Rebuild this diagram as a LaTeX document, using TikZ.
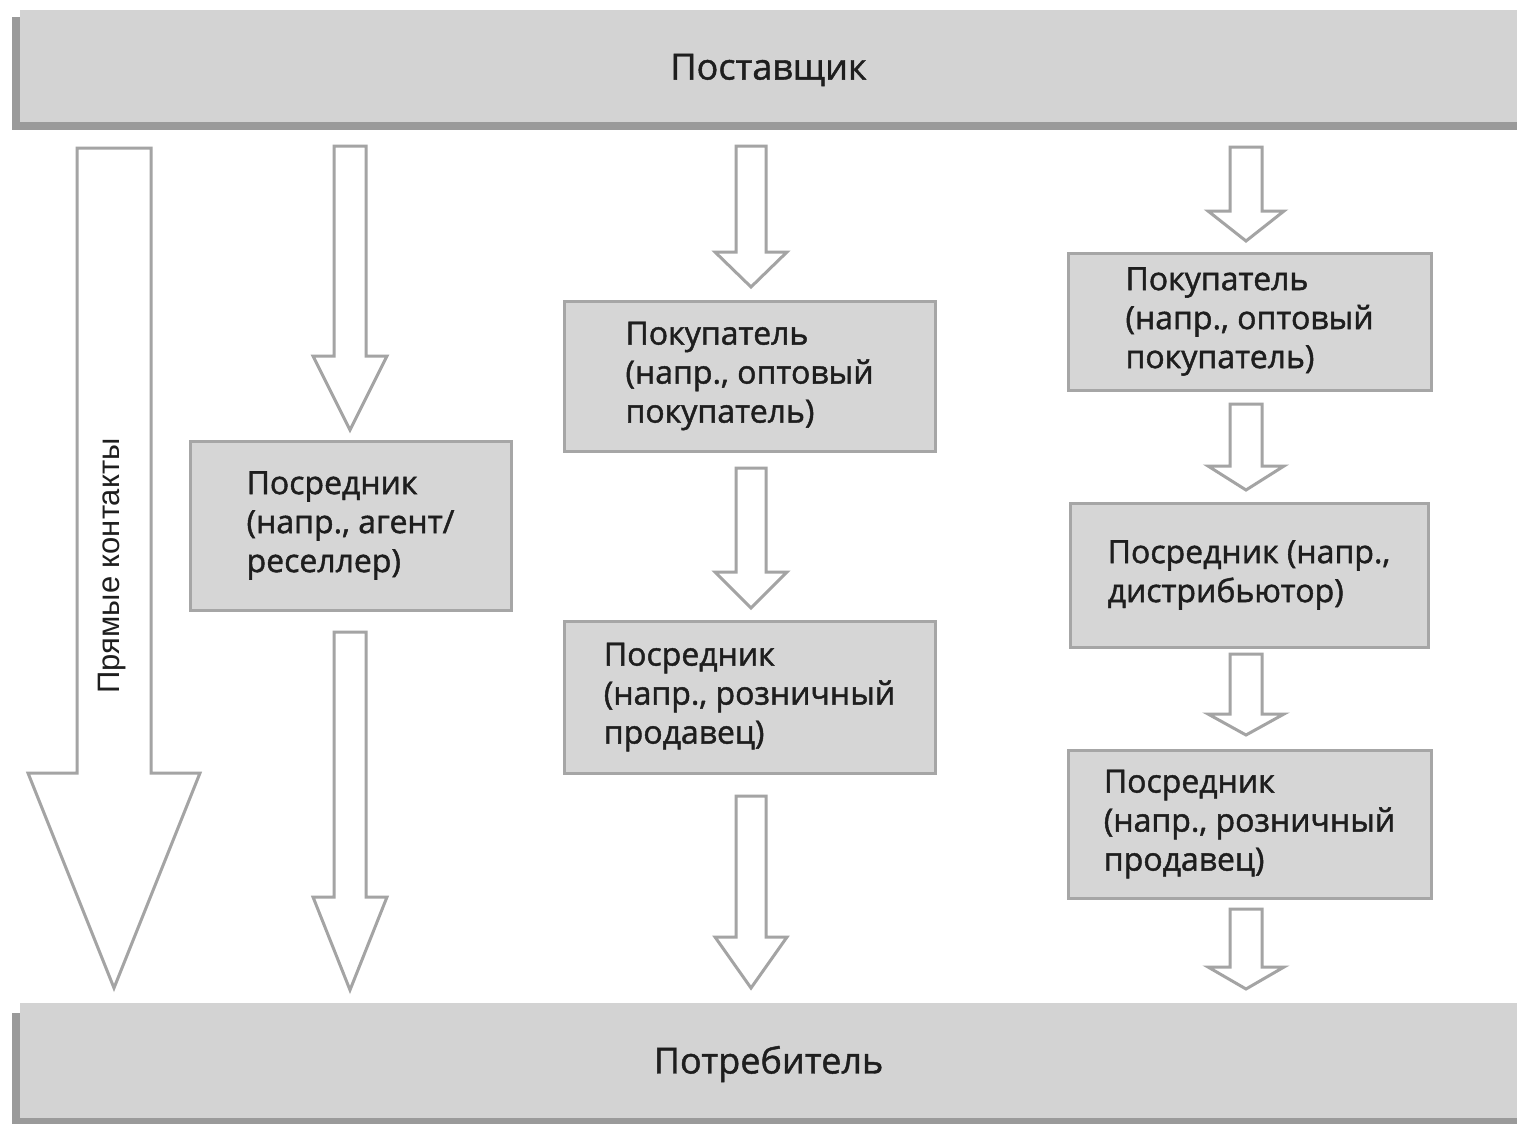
\documentclass[tikz,border=0pt]{standalone}
\usepackage{fontspec}
\setmainfont{Open Sans}[FakeBold=1.2]
\newfontfamily\boxfont{Open Sans}[FakeBold=1.4]
\newfontfamily\rotfont{Liberation Sans}
\definecolor{barfill}{HTML}{D3D3D3}
\definecolor{barshadow}{HTML}{9A9A9A}
\definecolor{boxfill}{HTML}{D6D6D6}
\definecolor{boxline}{HTML}{A6A6A6}
\definecolor{arrowcol}{HTML}{A4A4A4}
\definecolor{txt}{HTML}{1E1E1E}
\tikzset{
  bar/.style={fill=barfill, draw=none, minimum width=1497, minimum height=112, inner sep=0,
    font=\fontsize{36}{42}\selectfont, text=txt},
  bartext/.style={font=\fontsize{36}{42}\selectfont, text=txt, inner sep=0},
  chbox/.style={fill=boxfill, draw=boxline, line width=3pt, inner sep=0, align=left,
    font=\boxfont\fontsize{32}{39}\selectfont, text=txt},
  arrowline/.style={draw=arrowcol, line width=3pt, fill=white, line join=miter},
  pics/barrow/.style args={#1/#2/#3/#4}{code={
    \draw[arrowline] (-#3,0) -- (#3,0) -- (#3,#1) -- (#4,#1) -- (0,#2) -- (-#4,#1) -- (-#3,#1) -- cycle;
  }}
}
\begin{document}
\begin{tikzpicture}[x=1pt,y=-1pt]
\useasboundingbox (0,0) rectangle (1517,1124);
\fill[white] (0,0) rectangle (1517,1124);
% bars
\fill[barshadow] (12,17) rectangle (1517,130);
\node[bar] (supplier) at (768.5,66) {};
\node[bartext] (suppliertext) at (768.5,70) {Поставщик};
\fill[barshadow] (12,1013) rectangle (1517,1124);
\node[bar, minimum height=115] (consumer) at (768.5,1060.5) {};
\node[bartext] (consumertext) at (768.5,1064) {Потребитель};

% boxes
\node[chbox, minimum width=321, minimum height=169] (agent) at (350.5,525.5)
  {Посредник\\(напр., агент/\\реселлер)};
\node[chbox, minimum width=371, minimum height=150] (buyer3) at (749.5,376)
  {Покупатель\\(напр., оптовый\\покупатель)};
\node[chbox, minimum width=371, minimum height=152] (retail3) at (749.5,697)
  {Посредник\\(напр., розничный\\продавец)};
\node[chbox, minimum width=363, minimum height=137] (buyer4) at (1249.5,321.5)
  {Покупатель\\(напр., оптовый\\покупатель)};
\node[chbox, minimum width=358, minimum height=144] (distr4) at (1249,575)
  {Посредник (напр.,\\дистрибьютор)};
\node[chbox, minimum width=363, minimum height=148] (retail4) at (1249.5,824)
  {Посредник\\(напр., розничный\\продавец)};

% direct contacts arrow
\coordinate (d0) at (114,148);
\pic at (d0) {barrow={625/840/37/86}};
\node[rotate=90, font=\rotfont\fontsize{31}{34}\selectfont, text=txt] (direct) at (112,566) {Прямые контакты};

% column 2
\coordinate (c2a) at (350,146);
\pic at (c2a) {barrow={210/284/16/37}};
\coordinate (c2b) at (350,632);
\pic at (c2b) {barrow={265/358/16/37}};

% column 3
\coordinate (c3a) at (751,146);
\pic at (c3a) {barrow={106/141/15/36}};
\coordinate (c3b) at (751,468);
\pic at (c3b) {barrow={104/140/15/36}};
\coordinate (c3c) at (751,796);
\pic at (c3c) {barrow={141/192/15/36}};

% column 4
\coordinate (c4a) at (1246,147);
\pic at (c4a) {barrow={64/94/16/38}};
\coordinate (c4b) at (1246,404);
\pic at (c4b) {barrow={62/86/16/38}};
\coordinate (c4c) at (1246,654);
\pic at (c4c) {barrow={60/81/16/38}};
\coordinate (c4d) at (1246,909);
\pic at (c4d) {barrow={58/80/16/38}};
\end{tikzpicture}
\end{document}
